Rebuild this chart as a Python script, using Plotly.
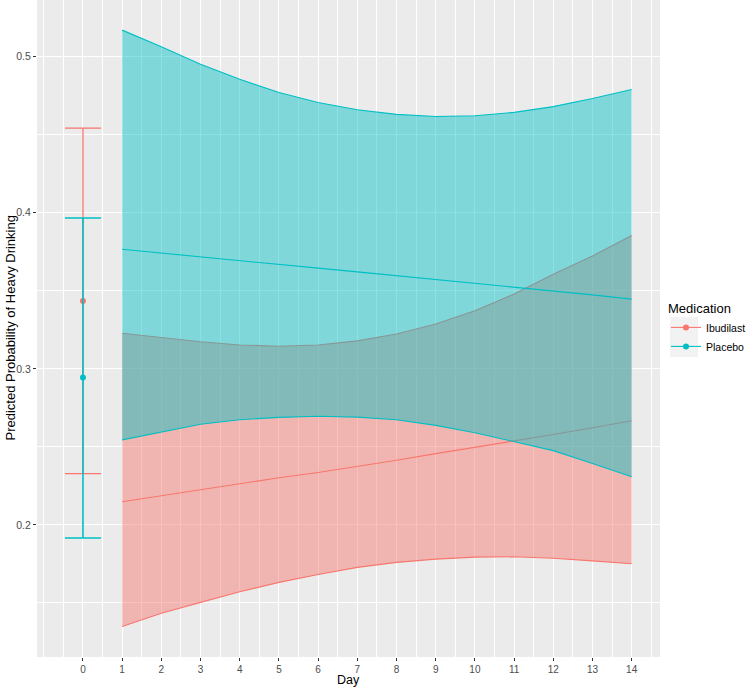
import plotly.graph_objects as go

days = list(range(1, 15))

# Ibudilast
ibu_mean = [0.2149, 0.2187, 0.2228, 0.2266, 0.2302, 0.2336, 0.2374, 0.2415, 0.2457, 0.2498, 0.2536, 0.2579, 0.2623, 0.2668]
ibu_lower = [0.1350, 0.1434, 0.1504, 0.1572, 0.1632, 0.1683, 0.1728, 0.1760, 0.1781, 0.1794, 0.1796, 0.1787, 0.1770, 0.1751]
ibu_upper = [0.3228, 0.3202, 0.3174, 0.3153, 0.3145, 0.3153, 0.3179, 0.3223, 0.3287, 0.3372, 0.3479, 0.3606, 0.3723, 0.3855]

# Placebo
pla_mean = [0.3766, 0.3741, 0.3716, 0.3692, 0.3668, 0.3645, 0.3621, 0.3597, 0.3573, 0.3549, 0.3525, 0.3500, 0.3474, 0.3447]
pla_lower = [0.2545, 0.2596, 0.2645, 0.2674, 0.2689, 0.2696, 0.2691, 0.2674, 0.2638, 0.2591, 0.2534, 0.2476, 0.2394, 0.2309]
pla_upper = [0.5170, 0.5064, 0.4951, 0.4855, 0.4770, 0.4706, 0.4660, 0.4630, 0.4617, 0.4621, 0.4643, 0.4680, 0.4732, 0.4790]

# Day 0 baseline estimates
base_day = [0]
ibu_base = [0.3435]
ibu_base_lo = [0.2329]
ibu_base_hi = [0.4542]
pla_base = [0.2944]
pla_base_lo = [0.1916]
pla_base_hi = [0.3966]

x_ticks = list(range(0, 15))
y_ticks = [0.2, 0.3, 0.4, 0.5]
y_ticktext = ["0.2", "0.3", "0.4", "0.5"]

RED = "#F8766D"
TEAL = "#00BFC4"
RED_FILL = "rgba(248,118,109,0.46)"
TEAL_FILL = "rgba(0,191,196,0.46)"
FONT = "Liberation Sans, Arial, sans-serif"

fig = go.Figure()

# Ibudilast band + line
fig.add_trace(go.Scatter(x=days, y=ibu_lower, mode="lines", line=dict(color=RED, width=1.1),
                         showlegend=False, hoverinfo="skip"))
fig.add_trace(go.Scatter(x=days, y=ibu_upper, mode="lines", line=dict(color=RED, width=1.1),
                         fill="tonexty", fillcolor=RED_FILL, showlegend=False, hoverinfo="skip"))
fig.add_trace(go.Scatter(x=days, y=ibu_mean, mode="lines", line=dict(color=RED, width=1.1),
                         showlegend=False))

# Placebo band + line
fig.add_trace(go.Scatter(x=days, y=pla_lower, mode="lines", line=dict(color=TEAL, width=1.1),
                         showlegend=False, hoverinfo="skip"))
fig.add_trace(go.Scatter(x=days, y=pla_upper, mode="lines", line=dict(color=TEAL, width=1.1),
                         fill="tonexty", fillcolor=TEAL_FILL, showlegend=False, hoverinfo="skip"))
fig.add_trace(go.Scatter(x=days, y=pla_mean, mode="lines", line=dict(color=TEAL, width=1.1),
                         showlegend=False))

# Baseline error bars
fig.add_trace(go.Scatter(
    x=base_day, y=ibu_base, mode="markers", marker=dict(color=RED, size=6),
    error_y=dict(type="data", symmetric=False,
                 array=[h - m for h, m in zip(ibu_base_hi, ibu_base)],
                 arrayminus=[m - l for l, m in zip(ibu_base_lo, ibu_base)],
                 color=RED, thickness=1.3, width=18),
    showlegend=False))
fig.add_trace(go.Scatter(
    x=base_day, y=pla_base, mode="markers", marker=dict(color=TEAL, size=6),
    error_y=dict(type="data", symmetric=False,
                 array=[h - m for h, m in zip(pla_base_hi, pla_base)],
                 arrayminus=[m - l for l, m in zip(pla_base_lo, pla_base)],
                 color=TEAL, thickness=1.6, width=18),
    showlegend=False))

# Legend entries
fig.add_trace(go.Scatter(x=[None], y=[None], mode="lines+markers", name="Ibudilast",
                         line=dict(color=RED, width=1.1), marker=dict(color=RED, size=6)))
fig.add_trace(go.Scatter(x=[None], y=[None], mode="lines+markers", name="Placebo",
                         line=dict(color=TEAL, width=1.1), marker=dict(color=TEAL, size=6)))

minor_x = [v / 2 for v in range(-2, 30) if v % 2 != 0] + [-1]
minor_y = [0.15, 0.25, 0.35, 0.45]

W, H = 747, 688
L, R, T, B = 37, 87, 0, 31
PW, PH = W - L - R, H - T - B


def px_x(px):
    return (px - L) / PW


def px_y(py):
    return 1 - (py - T) / PH


# light grey legend key backgrounds (ggplot-style)
key_shapes = []
for top in (317, 337):
    key_shapes.append(dict(type="rect", xref="paper", yref="paper", layer="below",
                           x0=px_x(670), x1=px_x(698), y0=px_y(top), y1=px_y(top + 20),
                           fillcolor="#F2F2F2", line=dict(width=0)))

fig.update_layout(
    width=W, height=H,
    margin=dict(l=L, r=R, t=T, b=B, autoexpand=False),
    paper_bgcolor="white",
    plot_bgcolor="#EBEBEB",
    font=dict(family=FONT, color="#000000"),
    xaxis=dict(
        range=[-1.1725, 14.7225], tickmode="array", tickvals=x_ticks,
        ticktext=[str(v) for v in x_ticks], automargin=False,
        showgrid=True, gridcolor="white", gridwidth=1.2, zeroline=False, showline=False,
        ticks="outside", ticklen=3, tickwidth=1.1, tickcolor="#333333",
        tickfont=dict(size=10, color="#4D4D4D", family=FONT),
        minor=dict(tickvals=minor_x, showgrid=True, gridcolor="white", gridwidth=0.6, ticks=""),
    ),
    yaxis=dict(
        range=[0.1154, 0.5363], tickmode="array", tickvals=y_ticks, ticktext=y_ticktext,
        automargin=False,
        showgrid=True, gridcolor="white", gridwidth=1.2, zeroline=False, showline=False,
        ticks="outside", ticklen=3, tickwidth=1.1, tickcolor="#333333",
        tickfont=dict(size=10.5, color="#4D4D4D", family=FONT),
        minor=dict(tickvals=minor_y, showgrid=True, gridcolor="white", gridwidth=0.6, ticks=""),
    ),
    legend=dict(
        title=dict(text="Medication", font=dict(size=13, color="#000000", family=FONT)),
        font=dict(size=10.5, color="#000000", family=FONT),
        x=px_x(666), xanchor="left", y=px_y(296), yanchor="top",
        bgcolor="rgba(0,0,0,0)", itemwidth=30, tracegroupgap=0, traceorder="normal",
    ),
    shapes=key_shapes,
    annotations=[
        dict(text="Day", xref="paper", yref="paper", x=0.5, y=px_y(680.3),
             xanchor="center", yanchor="middle", showarrow=False,
             font=dict(size=12.5, color="#000000", family=FONT)),
        dict(text="Predicted Probability of Heavy Drinking", xref="paper", yref="paper",
             x=px_x(10), y=0.5, xanchor="center", yanchor="middle", textangle=-90,
             showarrow=False, font=dict(size=13, color="#000000", family=FONT)),
    ],
    showlegend=True,
)

fig.write_html("out.html", config={"displayModeBar": False},
               post_script="document.body.style.margin='0';document.body.style.padding='0';")
